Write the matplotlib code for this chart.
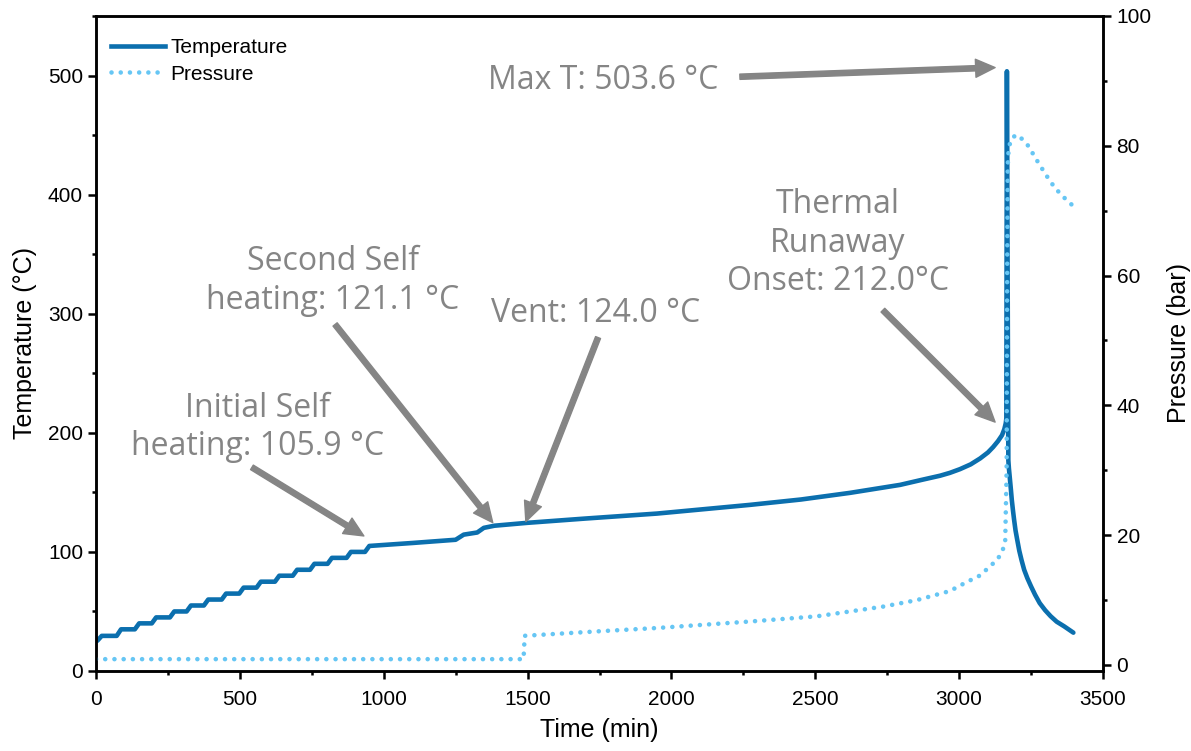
import numpy as np
import matplotlib
matplotlib.use("Agg")
import matplotlib.pyplot as plt
from matplotlib.patches import FancyArrowPatch, ArrowStyle
from matplotlib.ticker import MultipleLocator
from matplotlib.lines import Line2D

plt.rcParams['font.family'] = ['Liberation Sans', 'DejaVu Sans']

# heat-wait-search staircase: time each 5 degC heating step starts, level it settles at
step_start_min = [5, 72, 135, 194, 257, 315, 375, 437, 498, 558, 622, 684, 744, 805, 871, 935]
step_level_c = [29.5, 35, 40, 45, 50, 55, 60, 65, 70, 75, 80, 85, 90, 95, 100, 105]
start_temp_c = 25.5

# exotherm tracking, runaway and cool-down
track_time_min = [1100, 1250, 1278, 1325, 1348, 1385, 1498, 1700, 1950, 2273, 2450,
                  2621, 2795, 2870, 2934, 2968, 3003, 3040, 3073, 3100, 3118, 3135,
                  3149, 3157, 3162, 3164, 3166, 3169, 3171, 3173, 3175, 3180, 3183,
                  3187, 3191, 3196, 3202, 3209, 3217, 3226, 3237, 3250, 3264, 3280,
                  3299, 3318, 3339, 3365, 3397]
track_temp_c = [107.5, 110.2, 114.5, 116.3, 120.2, 122.0, 124.4, 128.0, 132.2, 139.5, 144.0,
                149.6, 156.3, 160.5, 164.0, 166.4, 169.5, 173.5, 178.5, 183.5, 188.0, 193.0,
                198.0, 203.0, 208.0, 212.0, 503.6, 300.0, 177.0, 170.0, 165.0, 152.0, 143.7,
                135.0, 127.0, 118.0, 110.0, 101.0, 93.0, 85.0, 78.0, 71.0, 64.0, 57.0,
                51.0, 46.0, 41.4, 37.5, 32.2]

press_time_min = [0, 1486, 1490, 1600, 1750, 1950, 2273, 2505, 2736, 2853, 2968, 3027,
                  3073, 3107, 3132, 3149, 3160, 3165, 3167, 3169, 3172, 3178, 3186, 3201,
                  3220, 3240, 3271, 3302, 3333, 3372, 3392]
press_bar = [0.9, 0.9, 4.5, 4.8, 5.2, 5.7, 6.7, 7.5, 9.0, 10.0, 11.4, 12.8,
             13.8, 15.2, 16.2, 17.4, 18.9, 30.0, 60.0, 77.0, 79.5, 80.6, 81.3, 81.7,
             81.0, 80.0, 77.7, 75.5, 73.5, 71.7, 70.9]

# annotations: text, text position, arrow tail, arrow tip (time, temperature)
notes = [
    ("Max T: 503.6 °C", (1764, 495.5), (2238, 499), (3125, 506.7)),
    ("Thermal\nRunaway\nOnset: 212.0°C", (2579, 359), (2735, 303), (3125, 209)),
    ("Vent: 124.0 °C", (1738, 300.5), (1745, 280), (1494, 125.5)),
    ("Second Self\nheating: 121.1 °C", (824, 327.5), (831, 291), (1379, 124.6)),
    ("Initial Self\nheating: 105.9 °C", (560, 204.5), (542, 171), (931, 113.4)),
]

# build the stair polyline from the step list
t_temp = [0.0]
temp = [start_temp_c]
prev = start_temp_c
for ts, lvl in zip(step_start_min, step_level_c):
    t_temp += [ts, ts + 15]
    temp += [prev, lvl]
    prev = lvl
t_temp += track_time_min
temp += track_temp_c

T_COLOR = '#0b6fae'
P_COLOR = '#66c6f4'
GREY = '#858585'
DOTS = (0, (0.01, 2.0))

fig = plt.figure(figsize=(11.91, 7.51), dpi=100)
ax = fig.add_axes([96 / 1191, 1 - 671 / 751, 1007 / 1191, 655 / 751])
ax2 = ax.twinx()

ax.plot(t_temp, temp, color=T_COLOR, lw=3.3, solid_capstyle='round',
        solid_joinstyle='round')
ax2.plot(press_time_min, press_bar, color=P_COLOR, lw=3.3,
         linestyle=DOTS, dash_capstyle='round')

ax.set_xlim(0, 3500)
ax.set_ylim(0, 550)
ax2.set_ylim(-0.925, 100)

ax.xaxis.set_major_locator(MultipleLocator(500))
ax.xaxis.set_minor_locator(MultipleLocator(250))
ax.yaxis.set_major_locator(MultipleLocator(100))
ax.yaxis.set_minor_locator(MultipleLocator(50))
ax2.yaxis.set_major_locator(MultipleLocator(20))
ax2.yaxis.set_minor_locator(MultipleLocator(10))

for a in (ax, ax2):
    for s in a.spines.values():
        s.set_linewidth(1.8)
    a.tick_params(which='major', length=5.8, width=1.8, labelsize=15, direction='out')
    a.tick_params(which='minor', length=3.0, width=1.8, direction='out')
ax.tick_params(axis='x', pad=8)
ax2.tick_params(axis='y', pad=4)

ax.set_xlabel('Time (min)', fontsize=18, labelpad=6)
ax.set_ylabel('Temperature (°C)', fontsize=18, labelpad=8)
ax2.set_ylabel('Pressure (bar)', fontsize=18, labelpad=11)

handles = [
    Line2D([], [], color=T_COLOR, lw=3.3),
    Line2D([], [], color=P_COLOR, lw=3.3, linestyle=DOTS, dash_capstyle='round'),
]
ax.legend(handles, ['Temperature', 'Pressure'], loc='upper left',
          bbox_to_anchor=(0.015, 0.966), frameon=False, fontsize=15,
          handlelength=2.6, handletextpad=0.25, labelspacing=0.36,
          borderaxespad=0, borderpad=0)

arrow_style = ArrowStyle.Simple(head_length=14, head_width=13, tail_width=3.8)
for txt, pos, tail, tip in notes:
    ax.text(pos[0], pos[1], txt, ha='center', va='center', multialignment='center',
            fontsize=23, color=GREY, family=['Open Sans', 'DejaVu Sans'],
            linespacing=1.22)
    ax.add_patch(FancyArrowPatch(tail, tip, arrowstyle=arrow_style, mutation_scale=1,
                                 color=GREY, shrinkA=0, shrinkB=0, zorder=4))

fig.savefig('out.png', dpi=100)
